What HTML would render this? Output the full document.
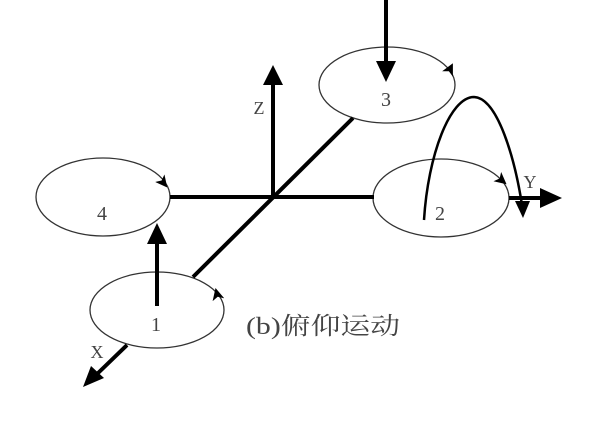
<!DOCTYPE html>
<html><head><meta charset="utf-8"><style>
html,body{margin:0;padding:0;background:#fff;overflow:hidden;}
svg{display:block;}
text{font-family:"Liberation Serif","Noto Serif CJK SC",serif;fill:#444;}
</style></head><body>
<svg width="605" height="424" viewBox="0 0 605 424" xmlns="http://www.w3.org/2000/svg">
<defs>
<marker id="sm" markerWidth="12" markerHeight="12" refX="10" refY="6" orient="auto" markerUnits="userSpaceOnUse">
<path d="M0,0 L12,6 L0,12 L3,6 Z" fill="#000"/></marker>
</defs>
<ellipse cx="387" cy="85" rx="68" ry="38" fill="none" stroke="#333" stroke-width="1.3"/>
<ellipse cx="103" cy="197" rx="67" ry="39" fill="none" stroke="#333" stroke-width="1.3"/>
<ellipse cx="441" cy="198" rx="68" ry="39" fill="none" stroke="#333" stroke-width="1.3"/>
<ellipse cx="157" cy="310" rx="67" ry="38" fill="none" stroke="#333" stroke-width="1.3"/>
<line x1="170" y1="197" x2="374" y2="197" stroke="#000" stroke-width="4"/>
<line x1="509" y1="198" x2="542" y2="198" stroke="#000" stroke-width="4"/>
<polygon points="562,198 540,188 540,208" fill="#000"/>
<line x1="273" y1="197" x2="273" y2="82" stroke="#000" stroke-width="4"/>
<polygon points="273,65 263,85 283,85" fill="#000"/>
<line x1="353" y1="118" x2="193" y2="277" stroke="#000" stroke-width="4"/>
<line x1="127" y1="345" x2="96" y2="375" stroke="#000" stroke-width="4"/>
<polygon points="83,387 91,366 104,378" fill="#000"/>
<line x1="386" y1="0" x2="386" y2="64" stroke="#000" stroke-width="4"/>
<polygon points="386,82 376,61 396,61" fill="#000"/>
<line x1="157" y1="306" x2="157" y2="242" stroke="#000" stroke-width="4"/>
<polygon points="157,223 147,244 167,244" fill="#000"/>
<path d="M424,220 C428,155 450,97 474,97 C498,98 515,160 522,205" fill="none" stroke="#000" stroke-width="2.5"/>
<polygon points="523,218 515,201 530,201" fill="#000"/>
<path d="M446,77 L452,65" fill="none" marker-end="url(#sm)"/>
<path d="M158,176 L166,186" fill="none" marker-end="url(#sm)"/>
<path d="M493,173 L505,183" fill="none" marker-end="url(#sm)"/>
<path d="M219,302 L216,290" fill="none" marker-end="url(#sm)"/>
<text x="259" y="114" font-size="18" text-anchor="middle">Z</text>
<text x="530" y="188" font-size="18" text-anchor="middle">Y</text>
<text x="97" y="358" font-size="18" text-anchor="middle">X</text>
<text x="386" y="106" font-size="20" text-anchor="middle">3</text>
<text x="102" y="220" font-size="20" text-anchor="middle">4</text>
<text x="440" y="220" font-size="20" text-anchor="middle">2</text>
<text x="156" y="331" font-size="20" text-anchor="middle">1</text>
<text x="246" y="334" font-size="24" textLength="154" lengthAdjust="spacingAndGlyphs">(b)俯仰运动</text>
</svg>
</body></html>
